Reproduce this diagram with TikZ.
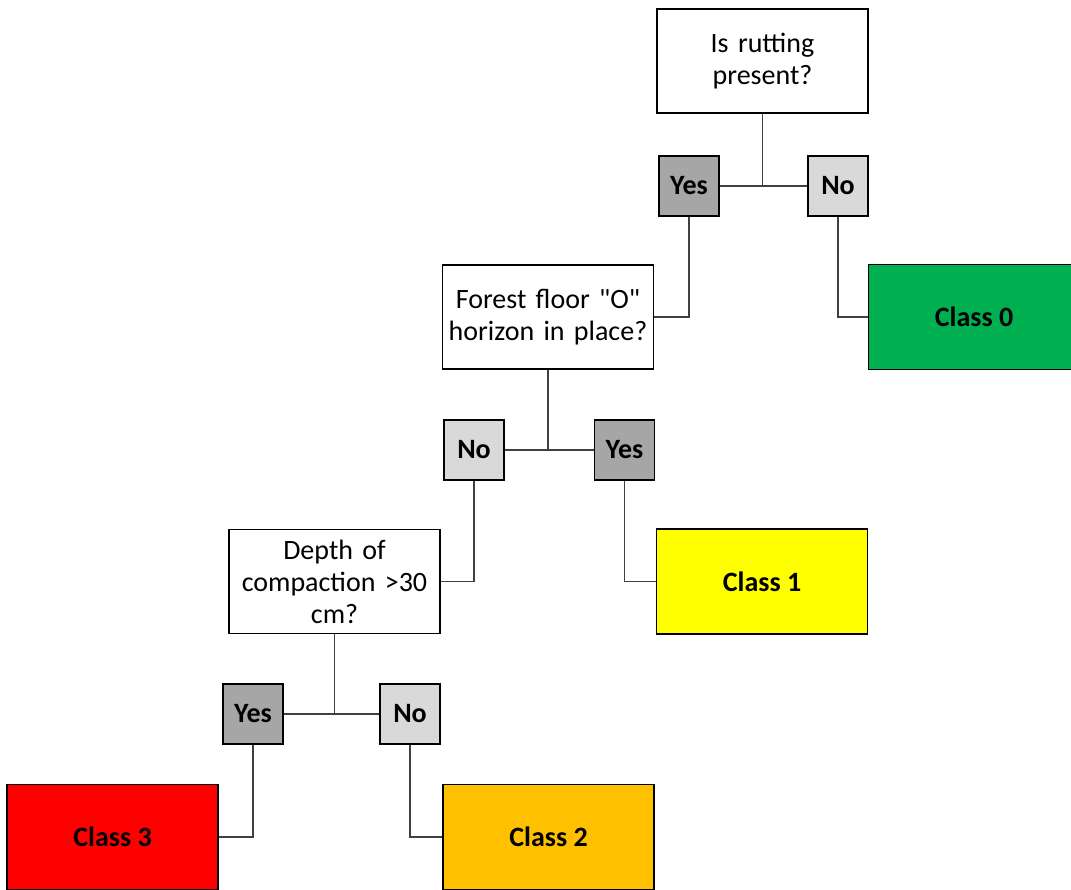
\documentclass[tikz,border=0pt]{standalone}
\usepackage{fontspec}
\setmainfont{Carlito}[Ligatures=TeXOff]
\usepackage{tikz}
\tikzstyle{question} = [draw, line width=1.6pt, fill=white, minimum width=211pt, minimum height=104pt, text width=207pt, align=center, inner sep=0pt, font=\fontsize{28}{32}\selectfont]
\tikzstyle{answer} = [draw, line width=1.6pt, minimum width=60pt, minimum height=60pt, inner sep=0pt, font=\fontsize{28}{32}\selectfont\bfseries]
\tikzstyle{yes} = [answer, fill=black!35]
\tikzstyle{no} = [answer, fill=black!15]
\tikzstyle{result} = [draw, line width=1.6pt, minimum width=211pt, minimum height=105pt, inner sep=0pt, font=\fontsize{28}{32}\selectfont\bfseries]
\tikzstyle{link} = [line width=1.3pt, black!75]

\begin{document}
\begin{tikzpicture}[yscale=-1]
			\useasboundingbox (0pt,0pt) rectangle (1071pt,890pt);
			% first question
			\node[question] (q1) at (762.5pt,61pt) {Is rutting\\present?};
			\node[yes] (yes1) at (689pt,186pt) {Yes};
			\node[no] (no1) at (838pt,186pt) {No};
			\node[question] (q2) at (548pt,317pt) {Forest floor "O"\\horizon in place?};
			\node[result, fill={rgb,255:red,0;green,176;blue,80}] (c0) at (974pt,317pt) {Class 0};
			\draw[link] (yes1) -- (no1);
			\draw[link] (q1.south) -- (q1.south |- yes1.east);
			\draw[link] (yes1.south) |- (q2.east);
			\draw[link] (no1.south) |- (c0.west);
			% second question
			\node[no] (no2) at (474pt,450pt) {No};
			\node[yes] (yes2) at (624.5pt,450pt) {Yes};
			\node[question] (q3) at (334.5pt,581.5pt) {Depth of\\compaction >30\\cm?};
			\node[result, fill={rgb,255:red,255;green,255;blue,0}] (c1) at (762pt,581.5pt) {Class 1};
			\draw[link] (no2) -- (yes2);
			\draw[link] (q2.south) -- (q2.south |- no2.east);
			\draw[link] (no2.south) |- (q3.east);
			\draw[link] (yes2.south) |- (c1.west);
			% third question
			\node[yes] (yes3) at (253pt,714pt) {Yes};
			\node[no] (no3) at (410pt,714pt) {No};
			\node[result, fill={rgb,255:red,255;green,0;blue,0}] (c3) at (112.5pt,837pt) {Class 3};
			\node[result, fill={rgb,255:red,255;green,192;blue,0}] (c2) at (548.5pt,837pt) {Class 2};
			\draw[link] (yes3) -- (no3);
			\draw[link] (q3.south) -- (q3.south |- yes3.east);
			\draw[link] (yes3.south) |- (c3.east);
			\draw[link] (no3.south) |- (c2.west);
		\end{tikzpicture}
\end{document}
